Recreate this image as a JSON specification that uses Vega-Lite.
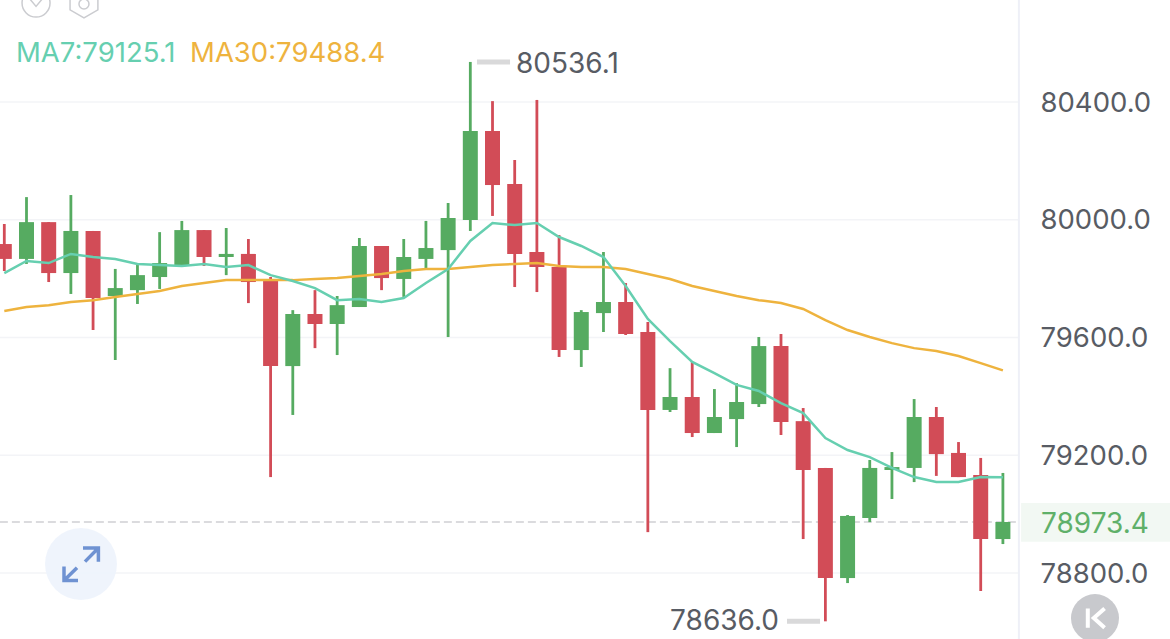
{"$schema":"https://vega.github.io/schema/vega-lite/v6.json","width":1170,"height":639,"autosize":"none","padding":0,"background":"#ffffff","config":{"view":{"stroke":null},"scale":{"continuousPadding":0}},
"datasets":{
"candles":[
{"i":0,"dir":"down","open":79917.6,"high":79985.6,"low":79826,"close":79867},
{"i":1,"dir":"up","open":79867,"high":80077,"low":79850,"close":79992},
{"i":2,"dir":"down","open":79992,"high":79992,"low":79788.5,"close":79819},
{"i":3,"dir":"up","open":79819,"high":80084,"low":79748,"close":79962},
{"i":4,"dir":"down","open":79962,"high":79962,"low":79625.5,"close":79734},
{"i":5,"dir":"up","open":79741,"high":79833,"low":79523.6,"close":79768},
{"i":6,"dir":"up","open":79761,"high":79850,"low":79714,"close":79812},
{"i":7,"dir":"up","open":79805.5,"high":79958,"low":79765,"close":79853},
{"i":8,"dir":"up","open":79846,"high":79996,"low":79846,"close":79965},
{"i":9,"dir":"down","open":79965,"high":79965,"low":79843,"close":79873.5},
{"i":10,"dir":"up","open":79873.5,"high":79972,"low":79812,"close":79884},
{"i":11,"dir":"down","open":79884,"high":79934.6,"low":79717,"close":79788.5},
{"i":12,"dir":"down","open":79799,"high":79805.5,"low":79126,"close":79503},
{"i":13,"dir":"up","open":79503,"high":79693,"low":79337,"close":79680},
{"i":14,"dir":"down","open":79680,"high":79761,"low":79564,"close":79646},
{"i":15,"dir":"up","open":79646,"high":79741,"low":79540.5,"close":79710},
{"i":16,"dir":"up","open":79703.6,"high":79938,"low":79703.6,"close":79911},
{"i":17,"dir":"down","open":79911,"high":79911,"low":79761,"close":79802},
{"i":18,"dir":"up","open":79799,"high":79934.6,"low":79738,"close":79873.5},
{"i":19,"dir":"up","open":79867,"high":79996,"low":79833,"close":79904},
{"i":20,"dir":"up","open":79897,"high":80057,"low":79601.7,"close":80006},
{"i":21,"dir":"up","open":79999,"high":80536.1,"low":79962,"close":80301.5},
{"i":22,"dir":"down","open":80301.5,"high":80403,"low":80013,"close":80118},
{"i":23,"dir":"down","open":80121.5,"high":80203,"low":79771.5,"close":79884},
{"i":24,"dir":"down","open":79890.5,"high":80407,"low":79754.5,"close":79839.5},
{"i":25,"dir":"down","open":79839.5,"high":79948,"low":79534,"close":79557.5},
{"i":26,"dir":"up","open":79557.5,"high":79693,"low":79500,"close":79686.6},
{"i":27,"dir":"up","open":79683,"high":79890.5,"low":79618.7,"close":79720.6},
{"i":28,"dir":"down","open":79720.6,"high":79785,"low":79608.5,"close":79612},
{"i":29,"dir":"down","open":79618.7,"high":79652.7,"low":78939,"close":79354},
{"i":30,"dir":"up","open":79354,"high":79496,"low":79347,"close":79398},
{"i":31,"dir":"down","open":79398,"high":79517,"low":79262,"close":79275.6},
{"i":32,"dir":"up","open":79275.6,"high":79425,"low":79275.6,"close":79330},
{"i":33,"dir":"up","open":79323,"high":79445,"low":79228,"close":79381},
{"i":34,"dir":"up","open":79374,"high":79601.7,"low":79364,"close":79571},
{"i":35,"dir":"down","open":79571,"high":79612,"low":79269,"close":79313},
{"i":36,"dir":"down","open":79316,"high":79360.5,"low":78915.5,"close":79150},
{"i":37,"dir":"down","open":79157,"high":79157,"low":78636,"close":78783},
{"i":38,"dir":"up","open":78783,"high":78997,"low":78766,"close":78994},
{"i":39,"dir":"up","open":78987,"high":79184,"low":78973,"close":79157},
{"i":40,"dir":"up","open":79150,"high":79211,"low":79051.5,"close":79160},
{"i":41,"dir":"up","open":79157,"high":79391,"low":79109,"close":79330},
{"i":42,"dir":"down","open":79330,"high":79364,"low":79130,"close":79204},
{"i":43,"dir":"down","open":79208,"high":79245,"low":79126,"close":79126},
{"i":44,"dir":"down","open":79133,"high":79191,"low":78739,"close":78915.5},
{"i":45,"dir":"up","open":78915.5,"high":79140,"low":78898.5,"close":78973.4}
],
"ma":[
{"i":0,"ma7":79819,"ma30":79690},{"i":1,"ma7":79860,"ma30":79703.6},{"i":2,"ma7":79853,"ma30":79710},{"i":3,"ma7":79884,"ma30":79720.6},{"i":4,"ma7":79873.5,"ma30":79727},{"i":5,"ma7":79867,"ma30":79738},{"i":6,"ma7":79850,"ma30":79748},{"i":7,"ma7":79846,"ma30":79758},{"i":8,"ma7":79843,"ma30":79775},{"i":9,"ma7":79850,"ma30":79785},{"i":10,"ma7":79839.5,"ma30":79795},{"i":11,"ma7":79846,"ma30":79795},{"i":12,"ma7":79812,"ma30":79795},{"i":13,"ma7":79792,"ma30":79795},{"i":14,"ma7":79768,"ma30":79799},{"i":15,"ma7":79727,"ma30":79802},{"i":16,"ma7":79731,"ma30":79809},{"i":17,"ma7":79720.6,"ma30":79816},{"i":18,"ma7":79734,"ma30":79826},{"i":19,"ma7":79785,"ma30":79833},{"i":20,"ma7":79833,"ma30":79833},{"i":21,"ma7":79928,"ma30":79839.5},{"i":22,"ma7":79989,"ma30":79846},{"i":23,"ma7":79982,"ma30":79850},{"i":24,"ma7":79989,"ma30":79853},{"i":25,"ma7":79941.4,"ma30":79843},{"i":26,"ma7":79911,"ma30":79839.5},{"i":27,"ma7":79873.5,"ma30":79839.5},{"i":28,"ma7":79775,"ma30":79833},{"i":29,"ma7":79663,"ma30":79816},{"i":30,"ma7":79588,"ma30":79799},{"i":31,"ma7":79517,"ma30":79775},{"i":32,"ma7":79479.4,"ma30":79758},{"i":33,"ma7":79439,"ma30":79741},{"i":34,"ma7":79418.3,"ma30":79727},{"i":35,"ma7":79377.5,"ma30":79717},{"i":36,"ma7":79343.5,"ma30":79697},{"i":37,"ma7":79258.6,"ma30":79659},{"i":38,"ma7":79218,"ma30":79625.5},{"i":39,"ma7":79194,"ma30":79601.7},{"i":40,"ma7":79157,"ma30":79581},{"i":41,"ma7":79126,"ma30":79564},{"i":42,"ma7":79109,"ma30":79554},{"i":43,"ma7":79109,"ma30":79537},{"i":44,"ma7":79126,"ma30":79513},{"i":45,"ma7":79125.1,"ma30":79488.4}
]},
"layer":[
{"data":{"values":[{"a":-0.2,"b":45.72,"v":80400},{"a":-0.2,"b":45.72,"v":80000},{"a":-0.2,"b":45.72,"v":79600},{"a":-0.2,"b":45.72,"v":79200},{"a":-0.2,"b":45.72,"v":78800}]},
"mark":{"type":"rule","stroke":"#f3f4f7","strokeWidth":1.5},
"encoding":{"x":{"field":"a","type":"quantitative","scale":{"domain":[-0.194,52.53],"nice":false,"zero":false},"axis":null},"x2":{"field":"b"},
"y":{"field":"v","type":"quantitative","scale":{"domain":[78576,80746.5],"nice":false,"zero":false},"title":null,"axis":{"orient":"right","values":[80400,80000,79600,79200,78800],"format":".1f","grid":false,"ticks":false,"domain":false,"labelPadding":-130,"labelAlign":"left","labelBaseline":"middle","labelFont":"Inter","labelFontSize":27.5,"labelColor":"#585c64","labelOverlap":false,"labelBound":false,"labelFlush":false,"labelOffset":1,"zindex":1}}}},
{"data":{"values":[{"a":45.72}]},"mark":{"type":"rule","stroke":"#eef0f7","strokeWidth":2},"encoding":{"x":{"field":"a","type":"quantitative","scale":{"domain":[-0.194,52.53],"nice":false,"zero":false},"axis":null}}},
{"data":{"values":[{"a":-0.2,"b":45.72,"v":78973.4}]},"mark":{"type":"rule","stroke":"#cfd0d3","strokeWidth":1.5,"strokeDash":[8,4]},"encoding":{"x":{"field":"a","type":"quantitative","scale":{"domain":[-0.194,52.53],"nice":false,"zero":false},"axis":null},"x2":{"field":"b"},"y":{"field":"v","type":"quantitative","scale":{"domain":[78576,80746.5],"nice":false,"zero":false},"title":null}}},
{"data":{"values":[{"a":45.82,"b":52.53,"v":79038,"w":78906}]},"mark":{"type":"rect","fill":"#f2f8f3"},"encoding":{"x":{"field":"a","type":"quantitative","scale":{"domain":[-0.194,52.53],"nice":false,"zero":false},"axis":null},"x2":{"field":"b"},"y":{"field":"v","type":"quantitative","scale":{"domain":[78576,80746.5],"nice":false,"zero":false},"title":null},"y2":{"field":"w"}}},
{"data":{"name":"candles"},"mark":{"type":"rule","strokeWidth":2.8},"encoding":{"x":{"field":"i","type":"quantitative","scale":{"domain":[-0.194,52.53],"nice":false,"zero":false},"axis":null},"y":{"field":"low","type":"quantitative","scale":{"domain":[78576,80746.5],"nice":false,"zero":false},"title":null},"y2":{"field":"high"},"color":{"field":"dir","type":"nominal","scale":{"domain":["up","down"],"range":["#56ab61","#d24c57"]},"legend":null}}},
{"data":{"name":"candles"},"mark":{"type":"bar","size":15},"encoding":{"x":{"field":"i","type":"quantitative","scale":{"domain":[-0.194,52.53],"nice":false,"zero":false},"axis":null},"y":{"field":"open","type":"quantitative","scale":{"domain":[78576,80746.5],"nice":false,"zero":false},"title":null},"y2":{"field":"close"},"color":{"field":"dir","type":"nominal","scale":{"domain":["up","down"],"range":["#56ab61","#d24c57"]},"legend":null}}},
{"data":{"name":"ma"},"mark":{"type":"line","stroke":"#eeb33e","strokeWidth":2.5},"encoding":{"x":{"field":"i","type":"quantitative","scale":{"domain":[-0.194,52.53],"nice":false,"zero":false},"axis":null},"y":{"field":"ma30","type":"quantitative","scale":{"domain":[78576,80746.5],"nice":false,"zero":false},"title":null}}},
{"data":{"name":"ma"},"mark":{"type":"line","stroke":"#66cfb0","strokeWidth":2.5},"encoding":{"x":{"field":"i","type":"quantitative","scale":{"domain":[-0.194,52.53],"nice":false,"zero":false},"axis":null},"y":{"field":"ma7","type":"quantitative","scale":{"domain":[78576,80746.5],"nice":false,"zero":false},"title":null}}},
{"data":{"values":[{"a":21.3,"b":22.79,"v":80536.1},{"a":35.27,"b":36.76,"v":78636}]},"mark":{"type":"rule","stroke":"#d9d9da","strokeWidth":5},"encoding":{"x":{"field":"a","type":"quantitative","scale":{"domain":[-0.194,52.53],"nice":false,"zero":false},"axis":null},"x2":{"field":"b"},"y":{"field":"v","type":"quantitative","scale":{"domain":[78576,80746.5],"nice":false,"zero":false},"title":null}}},
{"data":{"values":[{"a":0.527,"v":80564,"t":"MA7:79125.1"}]},"mark":{"type":"text","font":"Inter","fontSize":27.5,"align":"left","baseline":"middle","color":"#66cfb0"},"encoding":{"x":{"field":"a","type":"quantitative","scale":{"domain":[-0.194,52.53],"nice":false,"zero":false},"axis":null},"y":{"field":"v","type":"quantitative","scale":{"domain":[78576,80746.5],"nice":false,"zero":false},"title":null},"text":{"field":"t"}}},
{"data":{"values":[{"a":8.37,"v":80564,"t":"MA30:79488.4"}]},"mark":{"type":"text","font":"Inter","fontSize":27.5,"align":"left","baseline":"middle","color":"#eeb33e"},"encoding":{"x":{"field":"a","type":"quantitative","scale":{"domain":[-0.194,52.53],"nice":false,"zero":false},"axis":null},"y":{"field":"v","type":"quantitative","scale":{"domain":[78576,80746.5],"nice":false,"zero":false},"title":null},"text":{"field":"t"}}},
{"data":{"values":[{"a":23.06,"v":80526,"t":"80536.1"}]},"mark":{"type":"text","font":"Inter","fontSize":28,"align":"left","baseline":"middle","color":"#585c64"},"encoding":{"x":{"field":"a","type":"quantitative","scale":{"domain":[-0.194,52.53],"nice":false,"zero":false},"axis":null},"y":{"field":"v","type":"quantitative","scale":{"domain":[78576,80746.5],"nice":false,"zero":false},"title":null},"text":{"field":"t"}}},
{"data":{"values":[{"a":34.91,"v":78633,"t":"78636.0"}]},"mark":{"type":"text","font":"Inter","fontSize":28,"align":"right","baseline":"middle","color":"#585c64"},"encoding":{"x":{"field":"a","type":"quantitative","scale":{"domain":[-0.194,52.53],"nice":false,"zero":false},"axis":null},"y":{"field":"v","type":"quantitative","scale":{"domain":[78576,80746.5],"nice":false,"zero":false},"title":null},"text":{"field":"t"}}},
{"data":{"values":[{"a":46.72,"v":78963,"t":"78973.4"}]},"mark":{"type":"text","font":"Inter","fontSize":28,"align":"left","baseline":"middle","color":"#5fb069"},"encoding":{"x":{"field":"a","type":"quantitative","scale":{"domain":[-0.194,52.53],"nice":false,"zero":false},"axis":null},"y":{"field":"v","type":"quantitative","scale":{"domain":[78576,80746.5],"nice":false,"zero":false},"title":null},"text":{"field":"t"}}},
{"data":{"values":[{"a":3.456,"v":78830.6}]},"mark":{"type":"point","shape":"circle","filled":true,"fill":"#edf3fc","opacity":0.9,"size":5184},"encoding":{"x":{"field":"a","type":"quantitative","scale":{"domain":[-0.194,52.53],"nice":false,"zero":false},"axis":null},"y":{"field":"v","type":"quantitative","scale":{"domain":[78576,80746.5],"nice":false,"zero":false},"title":null}}},
{"data":{"values":[{"a":3.456,"v":78830.6}]},"mark":{"type":"point","shape":"M0.1,-0.8 L0.87,-0.8 L0.87,-0.12 M0.87,-0.8 L0.2,-0.12 M-0.85,0.12 L-0.85,0.82 L-0.15,0.82 M-0.85,0.82 L-0.2,0.18","filled":false,"stroke":"#6f92d2","strokeWidth":3.5,"opacity":1,"size":1600},"encoding":{"x":{"field":"a","type":"quantitative","scale":{"domain":[-0.194,52.53],"nice":false,"zero":false},"axis":null},"y":{"field":"v","type":"quantitative","scale":{"domain":[78576,80746.5],"nice":false,"zero":false},"title":null}}},
{"data":{"values":[{"a":49.15,"v":78647}]},"mark":{"type":"point","shape":"circle","filled":true,"fill":"#c8c9cd","opacity":1,"size":2304},"encoding":{"x":{"field":"a","type":"quantitative","scale":{"domain":[-0.194,52.53],"nice":false,"zero":false},"axis":null},"y":{"field":"v","type":"quantitative","scale":{"domain":[78576,80746.5],"nice":false,"zero":false},"title":null}}},
{"data":{"values":[{"a":49.15,"v":78647}]},"mark":{"type":"point","shape":"M-0.6,-0.8 L-0.6,0.8 M0.8,-0.8 L-0.1,0 L0.8,0.8","filled":false,"stroke":"#ffffff","strokeWidth":4,"opacity":1,"size":576},"encoding":{"x":{"field":"a","type":"quantitative","scale":{"domain":[-0.194,52.53],"nice":false,"zero":false},"axis":null},"y":{"field":"v","type":"quantitative","scale":{"domain":[78576,80746.5],"nice":false,"zero":false},"title":null}}},
{"data":{"values":[{"a":1.43,"v":80736}]},"mark":{"type":"point","shape":"circle","filled":false,"stroke":"#cbccd0","strokeWidth":1.5,"opacity":1,"size":784},"encoding":{"x":{"field":"a","type":"quantitative","scale":{"domain":[-0.194,52.53],"nice":false,"zero":false},"axis":null},"y":{"field":"v","type":"quantitative","scale":{"domain":[78576,80746.5],"nice":false,"zero":false},"title":null}}},
{"data":{"values":[{"a":1.43,"v":80739}]},"mark":{"type":"point","shape":"M-1,-0.6 L0,0.6 L1,-0.6","filled":false,"stroke":"#cbccd0","strokeWidth":1.5,"opacity":1,"size":196},"encoding":{"x":{"field":"a","type":"quantitative","scale":{"domain":[-0.194,52.53],"nice":false,"zero":false},"axis":null},"y":{"field":"v","type":"quantitative","scale":{"domain":[78576,80746.5],"nice":false,"zero":false},"title":null}}},
{"data":{"values":[{"a":3.59,"v":80740}]},"mark":{"type":"point","shape":"M0,-1 L0.87,-0.5 L0.87,0.5 L0,1 L-0.87,0.5 L-0.87,-0.5 Z","filled":false,"stroke":"#cbccd0","strokeWidth":1.5,"opacity":1,"size":1024},"encoding":{"x":{"field":"a","type":"quantitative","scale":{"domain":[-0.194,52.53],"nice":false,"zero":false},"axis":null},"y":{"field":"v","type":"quantitative","scale":{"domain":[78576,80746.5],"nice":false,"zero":false},"title":null}}},
{"data":{"values":[{"a":3.59,"v":80733}]},"mark":{"type":"point","shape":"circle","filled":false,"stroke":"#cbccd0","strokeWidth":1.5,"opacity":1,"size":100},"encoding":{"x":{"field":"a","type":"quantitative","scale":{"domain":[-0.194,52.53],"nice":false,"zero":false},"axis":null},"y":{"field":"v","type":"quantitative","scale":{"domain":[78576,80746.5],"nice":false,"zero":false},"title":null}}}
]}
